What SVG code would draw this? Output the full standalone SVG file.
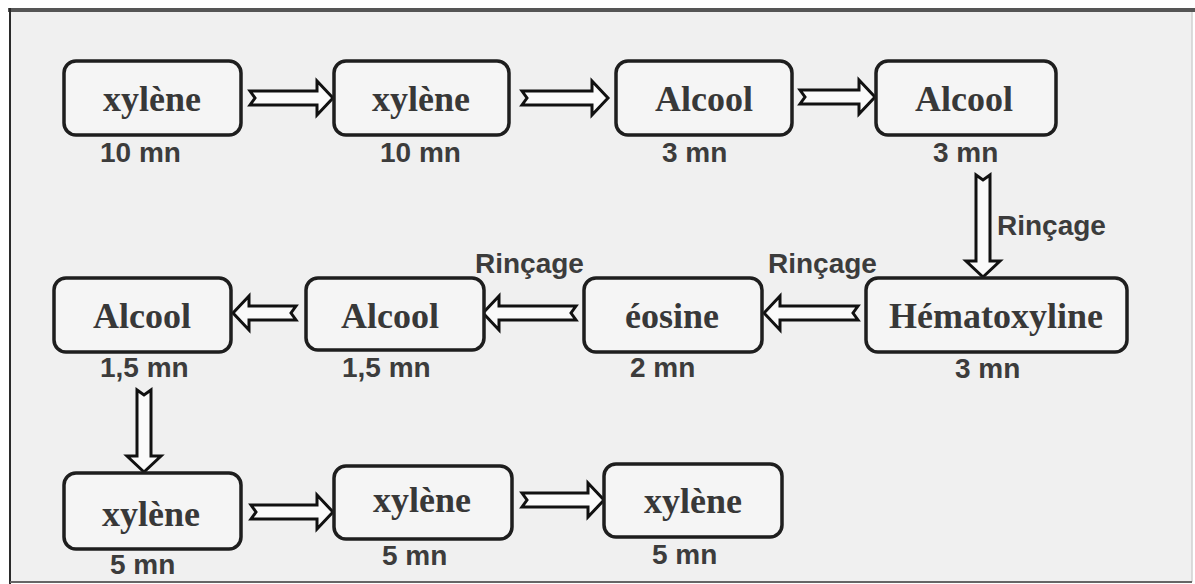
<svg xmlns="http://www.w3.org/2000/svg" width="1195" height="584" viewBox="0 0 1195 584">
  <style>
    .box { fill: #f5f5f5; stroke: #1e1e1e; stroke-width: 3.5; }
    .lbl { font-family: "Liberation Serif", "Times New Roman", serif; font-weight: bold; font-size: 36px; fill: #383838; text-anchor: middle; }
    .t { font-family: "Liberation Sans", Arial, sans-serif; font-weight: bold; font-size: 28px; fill: #3c3c3c; }
    .arr { fill: #fafafa; stroke: #111; stroke-width: 3; stroke-linejoin: miter; }
  </style>
  <rect x="0" y="0" width="1195" height="584" fill="#ffffff"/>
  <rect x="10" y="10" width="1182" height="572" fill="#f0f0f0"/>
  <line x1="8" y1="10" x2="1195" y2="10" stroke="#555" stroke-width="4"/>
  <line x1="10" y1="8" x2="10" y2="584" stroke="#2a2a2a" stroke-width="2"/>
  <line x1="1192" y1="12" x2="1192" y2="582" stroke="#d0d0d0" stroke-width="1.5"/>
  <line x1="10" y1="582" x2="1192" y2="582" stroke="#666" stroke-width="2"/>

  <g id="connectors">
    <path class="arr" d="M250,91 H317 V81 L333,98 L317,115 V105 H250 L255,98 Z"/>
    <path class="arr" d="M522,91 H592 V81 L608,98 L592,115 V105 H522 L527,98 Z"/>
    <path class="arr" d="M800,90 H859 V80 L875,97 L859,114 V104 H800 L805,97 Z"/>
    <path class="arr" d="M976,175 V261 H966 L983,277 L1000,261 H990 V175 L983,180 Z"/>
    <path class="arr" d="M858,306 H780 V296 L764,313 L780,330 V320 H858 L853,313 Z"/>
    <path class="arr" d="M576,306 H499 V296 L483,313 L499,330 V320 H576 L571,313 Z"/>
    <path class="arr" d="M296,306 H249 V296 L233,313 L249,330 V320 H296 L291,313 Z"/>
    <path class="arr" d="M137,390 V456 H127 L144,472 L161,456 H151 V390 L144,395 Z"/>
    <path class="arr" d="M251,505 H317 V495 L333,512 L317,529 V519 H251 L256,512 Z"/>
    <path class="arr" d="M522,493 H588 V483 L604,500 L588,517 V507 H522 L527,500 Z"/>
    <text class="t" x="997" y="235">Rinçage</text>
    <text class="t" x="768" y="273">Rinçage</text>
    <text class="t" x="475" y="273">Rinçage</text>
  </g>

  <g id="n1"><rect class="box" x="64" y="61" width="177" height="74" rx="12"/><text class="lbl" x="152" y="111">xylène</text><text class="t" x="100" y="162">10 mn</text></g>
  <g id="n2"><rect class="box" x="334" y="61" width="175" height="74" rx="12"/><text class="lbl" x="421" y="111">xylène</text><text class="t" x="380" y="162">10 mn</text></g>
  <g id="n3"><rect class="box" x="616" y="61" width="176" height="74" rx="12"/><text class="lbl" x="704" y="111">Alcool</text><text class="t" x="662" y="162">3 mn</text></g>
  <g id="n4"><rect class="box" x="876" y="61" width="180" height="74" rx="12"/><text class="lbl" x="964" y="111">Alcool</text><text class="t" x="933" y="162">3 mn</text></g>

  <g id="n5"><rect class="box" x="54" y="278" width="177" height="74" rx="12"/><text class="lbl" x="142" y="328">Alcool</text><text class="t" x="100" y="377">1,5 mn</text></g>
  <g id="n6"><rect class="box" x="306" y="278" width="178" height="72" rx="12"/><text class="lbl" x="390" y="328">Alcool</text><text class="t" x="342" y="377">1,5 mn</text></g>
  <g id="n7"><rect class="box" x="584" y="278" width="178" height="74" rx="12"/><text class="lbl" x="672" y="328">éosine</text><text class="t" x="630" y="377">2 mn</text></g>
  <g id="n8"><rect class="box" x="866" y="278" width="261" height="74" rx="12"/><text class="lbl" x="996" y="328">Hématoxyline</text><text class="t" x="955" y="378">3 mn</text></g>

  <g id="n9"><rect class="box" x="64" y="473" width="177" height="76" rx="12"/><text class="lbl" x="151" y="526">xylène</text><text class="t" x="110" y="574">5 mn</text></g>
  <g id="n10"><rect class="box" x="334" y="466" width="178" height="73" rx="12"/><text class="lbl" x="422" y="512">xylène</text><text class="t" x="382" y="565">5 mn</text></g>
  <g id="n11"><rect class="box" x="604" y="464" width="178" height="73" rx="12"/><text class="lbl" x="693" y="513">xylène</text><text class="t" x="652" y="564">5 mn</text></g>
</svg>
